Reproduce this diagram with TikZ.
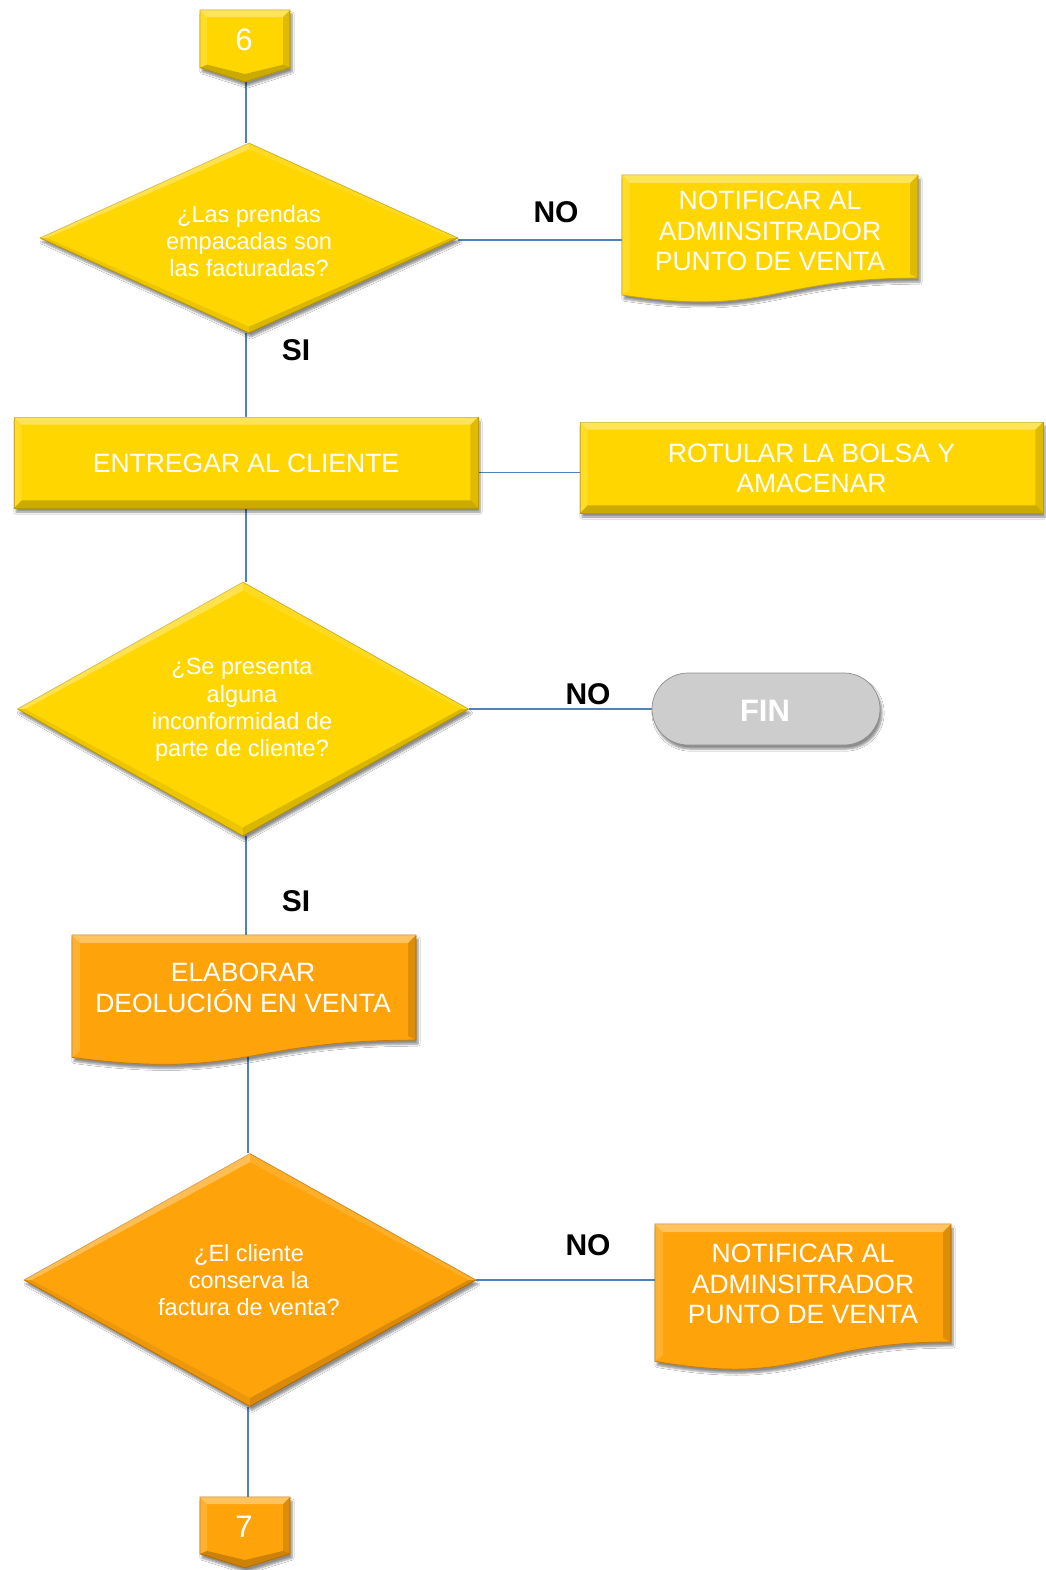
\documentclass[tikz,border=0pt]{standalone}
\usepackage{fontspec}
\setmainfont{Liberation Sans}
\usetikzlibrary{shapes.geometric,shapes.misc,calc,shadows.blur}
\pgfdeclarelayer{fondo}
\pgfsetlayers{fondo,main}

\definecolor{amarillo}{HTML}{FFD600}
\definecolor{amarilloosc}{HTML}{C9A200}
\definecolor{naranja}{HTML}{FFA30B}
\definecolor{naranjaosc}{HTML}{C87800}
\definecolor{gristerm}{HTML}{CDCDCD}
\definecolor{grisosc}{HTML}{8E8E8E}
\definecolor{azullinea}{HTML}{4F81BD}

\tikzset{
  sombra/.style={blur shadow={shadow xshift=2pt,shadow yshift=-4pt,shadow blur steps=6,shadow opacity=45}},
  amarilla/.style={fill=amarillo,draw=amarilloosc},
  anaranjada/.style={fill=naranja,draw=naranjaosc},
  forma/.style={line width=0.7pt,sombra,text=white,align=center,inner sep=0pt},
  txtcaja/.style={text=white,align=center,font=\fontsize{26.5}{30.5}\selectfont},
  txtrombo/.style={text=white,align=center,font=\fontsize{23.5}{27.3}\selectfont},
  txtnum/.style={text=white,font=\fontsize{31}{31}\selectfont},
  etiqueta/.style={text=black,font=\bfseries\fontsize{30}{30}\selectfont},
  linea/.style={draw=azullinea,line width=1.4pt},
  marco/.style={rectangle,draw=none,inner sep=0pt}
}

% bevel over a rectangular node
\newcommand\biselcaja[1]{%
  \fill[white,opacity=.35] (#1.north west) -- (#1.north east) -- ([shift={(-8pt,-8pt)}]#1.north east) -- ([shift={(8pt,-8pt)}]#1.north west) -- cycle;
  \fill[white,opacity=.15] (#1.north west) -- ([shift={(8pt,-8pt)}]#1.north west) -- ([shift={(8pt,8pt)}]#1.south west) -- (#1.south west) -- cycle;
  \fill[black,opacity=.13] (#1.north east) -- (#1.south east) -- ([shift={(-8pt,8pt)}]#1.south east) -- ([shift={(-8pt,-8pt)}]#1.north east) -- cycle;
  \fill[black,opacity=.2] (#1.south west) -- (#1.south east) -- ([shift={(-8pt,8pt)}]#1.south east) -- ([shift={(8pt,8pt)}]#1.south west) -- cycle;
}
% bevel over a diamond node
\newcommand\biselrombo[1]{%
  \coordinate (#1in-n) at ($(#1.center)!0.93!(#1.north)$);
  \coordinate (#1in-s) at ($(#1.center)!0.93!(#1.south)$);
  \coordinate (#1in-e) at ($(#1.center)!0.965!(#1.east)$);
  \coordinate (#1in-w) at ($(#1.center)!0.965!(#1.west)$);
  \fill[white,opacity=.3] (#1.west) -- (#1.north) -- (#1in-n) -- (#1in-w) -- cycle;
  \fill[white,opacity=.12] (#1.north) -- (#1.east) -- (#1in-e) -- (#1in-n) -- cycle;
  \fill[black,opacity=.15] (#1.east) -- (#1.south) -- (#1in-s) -- (#1in-e) -- cycle;
  \fill[black,opacity=.07] (#1.south) -- (#1.west) -- (#1in-w) -- (#1in-s) -- cycle;
}
% flowchart document shape: left, top, right, height, style
\newcommand\documento[5]{%
  \pgfmathsetmacro\docxm{(#1+#3)/2}%
  \pgfmathsetmacro\docyr{#2+0.802*#4}%
  \pgfmathsetmacro\docyl{#2+0.934*#4}%
  \pgfmathsetmacro\docyc{#2+1.107*#4}%
  \path[#5,forma] (#1,#2) -- (#3,#2) -- (#3,\docyr) .. controls (\docxm,\docyr) and (\docxm,\docyc) .. (#1,\docyl) -- cycle;
  \fill[white,opacity=.35] (#1,#2) -- (#3,#2) -- (#3-8,#2+8) -- (#1+8,#2+8) -- cycle;
  \fill[white,opacity=.15] (#1,#2) -- (#1+8,#2+8) -- (#1+8,\docyl-6) -- (#1,\docyl) -- cycle;
  \fill[black,opacity=.13] (#3,#2) -- (#3,\docyr) -- (#3-8,\docyr-4) -- (#3-8,#2+8) -- cycle;
}
% off-page connector: left, top, right, height, style
\newcommand\conector[5]{%
  \pgfmathsetmacro\conxm{(#1+#3)/2}%
  \pgfmathsetmacro\conys{#2+0.802*#4}%
  \pgfmathsetmacro\conyp{#2+#4}%
  \path[#5,forma] (#1,#2) -- (#3,#2) -- (#3,\conys) -- (\conxm,\conyp) -- (#1,\conys) -- cycle;
  \fill[white,opacity=.35] (#1,#2) -- (#3,#2) -- (#3-7,#2+7) -- (#1+7,#2+7) -- cycle;
  \fill[white,opacity=.15] (#1,#2) -- (#1+7,#2+7) -- (#1+7,\conys-3) -- (#1,\conys) -- cycle;
  \fill[black,opacity=.13] (#3,#2) -- (#3,\conys) -- (#3-7,\conys-3) -- (#3-7,#2+7) -- cycle;
  \fill[black,opacity=.2] (#1,\conys) -- (\conxm,\conyp) -- (#3,\conys) -- (#3-7,\conys-3) -- (\conxm,\conyp-8) -- (#1+7,\conys-3) -- cycle;
}

\begin{document}
\begin{tikzpicture}[x=1pt,y=-1pt]
\useasboundingbox (0,0) rectangle (1045,1570);

% ---- page connector 6
\conector{200}{10}{290}{72}{amarilla}
\node[marco,minimum width=90pt,minimum height=72pt] (c6) at (245,46) {};
\node[txtnum] (c6t) at (244,40) {6};
\coordinate (c6s) at (246,82);

% ---- first decision
\node[forma,amarilla,diamond,minimum width=418pt,minimum height=190pt] (d1) at (249,238) {};
\biselrombo{d1}
\node[txtrombo] (d1t) at (249,241) {¿Las prendas\\empacadas son\\las facturadas?};

\documento{622}{175}{918}{128.5}{amarilla}
\node[marco,minimum width=296pt,minimum height=120pt] (doc1) at (770,240) {};
\node[txtcaja] (doc1t) at (770,231) {NOTIFICAR AL\\ADMINSITRADOR\\PUNTO DE VENTA};

% ---- delivery
\node[forma,amarilla,rectangle,minimum width=464pt,minimum height=91pt] (ent) at (246,462.5) {};
\biselcaja{ent}
\node[txtcaja] (entt) at (246,463) {ENTREGAR AL CLIENTE};

\node[forma,amarilla,rectangle,minimum width=463pt,minimum height=91pt] (rot) at (811.5,467.5) {};
\biselcaja{rot}
\node[txtcaja] (rott) at (811.5,468.5) {ROTULAR LA BOLSA Y\\AMACENAR};

% ---- second decision
\node[forma,amarilla,diamond,minimum width=451pt,minimum height=254pt] (d2) at (243,709) {};
\biselrombo{d2}
\node[txtrombo] (d2t) at (242,710) {¿Se presenta\\alguna\\inconformidad de\\parte de cliente?};

\node[forma,rounded rectangle,fill=gristerm,draw=grisosc,minimum width=228pt,minimum height=72pt] (fin) at (766,709) {};
\node[text=white,font=\bfseries\fontsize{31}{31}\selectfont] (fint) at (765,711) {FIN};

% ---- return
\documento{72}{935}{416}{131}{anaranjada}
\node[marco,minimum width=344pt,minimum height=122pt] (doc2) at (248,996) {};
\node[txtcaja] (doc2t) at (243,988) {ELABORAR\\DEOLUCIÓN EN VENTA};

% ---- third decision
\node[forma,anaranjada,diamond,minimum width=452pt,minimum height=253pt] (d3) at (250,1280) {};
\biselrombo{d3}
\node[txtrombo] (d3t) at (249,1280) {¿El cliente\\conserva la\\factura de venta?};

\documento{655}{1224}{951}{147}{anaranjada}
\node[marco,minimum width=296pt,minimum height=114pt] (doc3) at (803,1281) {};
\node[txtcaja] (doc3t) at (803,1284) {NOTIFICAR AL\\ADMINSITRADOR\\PUNTO DE VENTA};

% ---- page connector 7
\conector{200}{1497}{290}{71}{anaranjada}
\node[marco,minimum width=90pt,minimum height=71pt] (c7) at (248,1532.5) {};
\node[txtnum] (c7t) at (244,1527) {7};

% ---- branch labels
\node[etiqueta] (no1) at (556,212) {NO};
\node[etiqueta] (si1) at (296,350) {SI};
\node[etiqueta] (no2) at (588,694) {NO};
\node[etiqueta] (si2) at (296,901) {SI};
\node[etiqueta] (no3) at (588,1245) {NO};

% ---- connectors, drawn beneath the shapes
\begin{pgfonlayer}{fondo}
\fill[white] (0,0) rectangle (1045,1570);
\draw[linea] (c6s) -- (c6s |- d1.north);
\draw[linea] ([yshift=-2pt]d1.east) -- ([yshift=-2pt]d1.east -| doc1.west);
\draw[linea] (ent.north -| c6s) -- (d1.south -| c6s);
\draw[linea] ([yshift=-10pt]ent.east) -- ([yshift=-10pt]ent.east -| rot.west);
\draw[linea] (ent.south -| c6s) -- (d2.north -| c6s);
\draw[linea] (d2.east) -- (d2.east -| fin.west);
\draw[linea] (d2.south -| c6s) -- (doc2.north -| c6s);
\draw[linea] (doc2.south) -- (d3.north -| doc2.south);
\draw[linea] (d3.east) -- (d3.east -| doc3.west);
\draw[linea] (d3.south -| c7) -- (c7.north);
\end{pgfonlayer}
\end{tikzpicture}
\end{document}
